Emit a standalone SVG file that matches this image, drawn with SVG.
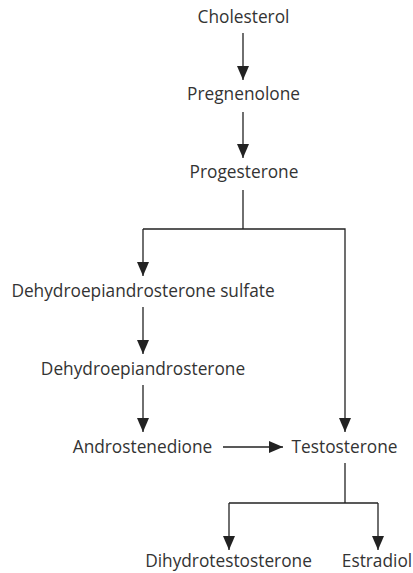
<svg xmlns="http://www.w3.org/2000/svg" width="413" height="573" viewBox="0 0 413 573">
<style>
text{font-family:"Open Sans","Noto Sans",sans-serif;font-size:17.3px;fill:#333;text-anchor:middle}
.c{stroke:#222;stroke-width:1.3;fill:none}
</style>
<defs>
<marker id="ah" markerUnits="userSpaceOnUse" markerWidth="14" markerHeight="12" refX="14" refY="6" orient="auto">
<path d="M0,0 L14,6 L0,12 z" fill="#222"/>
</marker>
</defs>
<rect width="413" height="573" fill="#fff"/>
<g id="connectors">
<line class="c" x1="243" y1="33" x2="243" y2="80" marker-end="url(#ah)"/>
<line class="c" x1="243" y1="112" x2="243" y2="158" marker-end="url(#ah)"/>
<polyline class="c" points="243,190 243,229"/>
<polyline class="c" points="143,229 345,229 345,432" marker-end="url(#ah)"/>
<line class="c" x1="143" y1="229" x2="143" y2="276" marker-end="url(#ah)"/>
<line class="c" x1="143" y1="307" x2="143" y2="354" marker-end="url(#ah)"/>
<line class="c" x1="143" y1="385" x2="143" y2="432" marker-end="url(#ah)"/>
<line class="c" x1="223" y1="447" x2="283" y2="447" marker-end="url(#ah)"/>
<polyline class="c" points="345,463 345,503"/>
<line class="c" x1="229" y1="503" x2="378" y2="503"/>
<line class="c" x1="229" y1="503" x2="229" y2="550" marker-end="url(#ah)"/>
<line class="c" x1="378" y1="503" x2="378" y2="550" marker-end="url(#ah)"/>
</g>
<g id="cholesterol"><text x="243.5" y="23">Cholesterol</text></g>
<g id="pregnenolone"><text x="243.5" y="100">Pregnenolone</text></g>
<g id="progesterone"><text x="244" y="178">Progesterone</text></g>
<g id="dheas"><text x="143" y="297">Dehydroepiandrosterone sulfate</text></g>
<g id="dhea"><text x="143" y="375">Dehydroepiandrosterone</text></g>
<g id="androstenedione"><text x="142.5" y="453">Androstenedione</text></g>
<g id="testosterone"><text x="344.5" y="453">Testosterone</text></g>
<g id="dht"><text x="228.5" y="567">Dihydrotestosterone</text></g>
<g id="estradiol"><text x="377" y="567">Estradiol</text></g>
</svg>
